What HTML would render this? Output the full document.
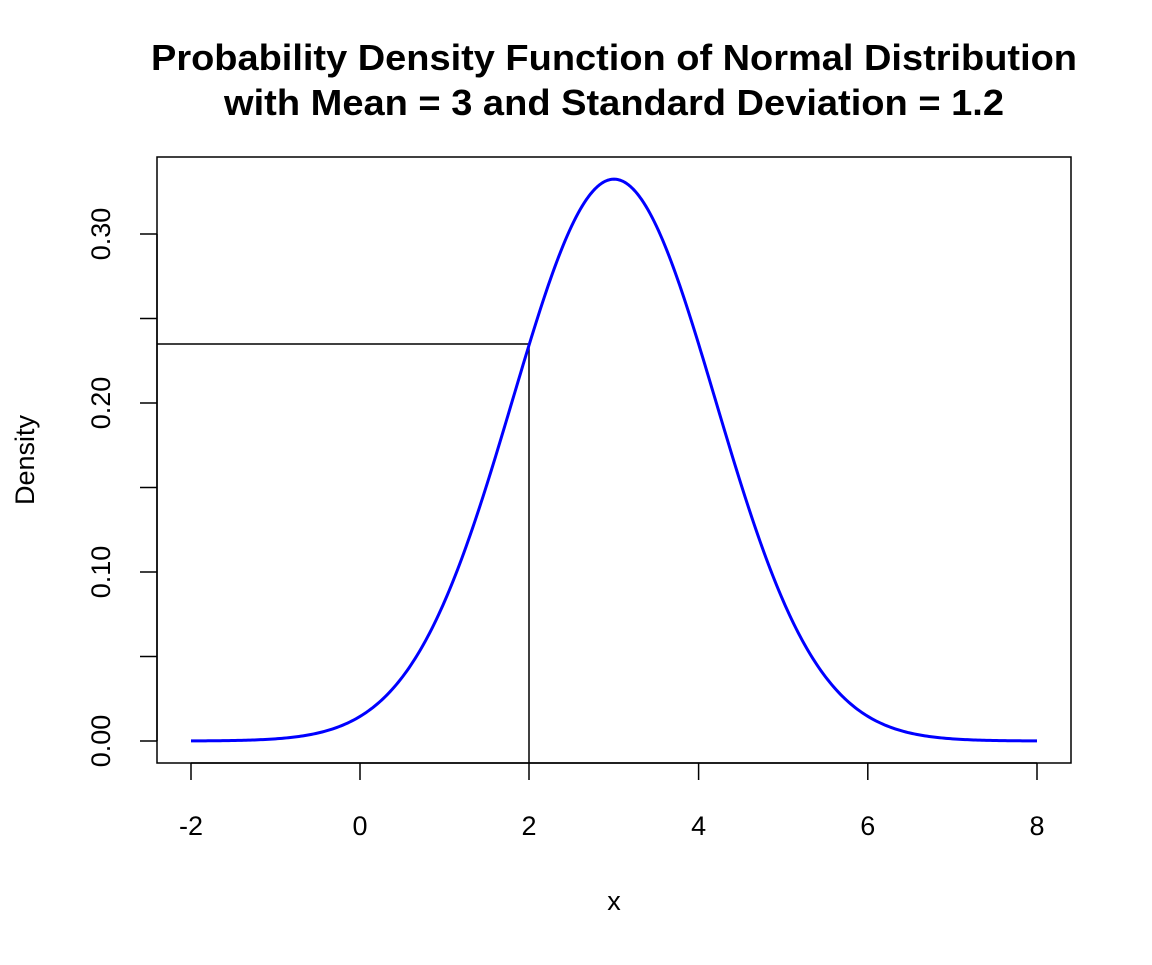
<!DOCTYPE html>
<html><head><meta charset="utf-8"><style>body{margin:0;background:#fff}</style></head><body>
<svg width="1152" height="960" xmlns="http://www.w3.org/2000/svg" font-family="Liberation Sans, Arial, sans-serif">
<rect width="1152" height="960" fill="#fff"/>
<text x="614" y="70" font-size="36" font-weight="bold" text-anchor="middle" textLength="926" lengthAdjust="spacingAndGlyphs">Probability Density Function of Normal Distribution</text>
<text x="614" y="115" font-size="36" font-weight="bold" text-anchor="middle" textLength="780" lengthAdjust="spacingAndGlyphs">with Mean = 3 and Standard Deviation = 1.2</text>
<rect x="157" y="157" width="914" height="606" fill="none" stroke="#000" stroke-width="1.5"/>
<g stroke="#000" stroke-width="1.5">
<line x1="191" y1="763" x2="1037" y2="763"/>
<line x1="191" y1="763" x2="191" y2="780"/><line x1="360" y1="763" x2="360" y2="780"/><line x1="529" y1="763" x2="529" y2="780"/><line x1="698.6" y1="763" x2="698.6" y2="780"/><line x1="867.8" y1="763" x2="867.8" y2="780"/><line x1="1037" y1="763" x2="1037" y2="780"/>
<line x1="157" y1="234" x2="157" y2="741"/>
<line x1="140" y1="741" x2="157" y2="741"/><line x1="140" y1="656.5" x2="157" y2="656.5"/><line x1="140" y1="572" x2="157" y2="572"/><line x1="140" y1="487.5" x2="157" y2="487.5"/><line x1="140" y1="403" x2="157" y2="403"/><line x1="140" y1="318.5" x2="157" y2="318.5"/><line x1="140" y1="234" x2="157" y2="234"/>
<line x1="157" y1="344" x2="529" y2="344"/><line x1="529" y1="344" x2="529" y2="763"/>
</g>
<g font-size="27" text-anchor="middle">
<text x="191" y="835">-2</text><text x="360" y="835">0</text><text x="529" y="835">2</text><text x="698.6" y="835">4</text><text x="867.8" y="835">6</text><text x="1037" y="835">8</text>
<text transform="translate(110,741) rotate(-90)">0.00</text>
<text transform="translate(110,572) rotate(-90)">0.10</text>
<text transform="translate(110,403) rotate(-90)">0.20</text>
<text transform="translate(110,234) rotate(-90)">0.30</text>
<text transform="translate(34,460) rotate(-90)">Density</text>
<text x="614" y="910">x</text>
</g>
<polyline id="curve" fill="none" stroke="#0000ff" stroke-width="3" stroke-linejoin="round" points="191,740.9 212.15,740.8 233.3,740.5 254.45,739.9 275.6,738.8 296.75,736.7 317.9,733 339.05,726.7 360.2,716.3 381.35,700.3 402.5,676.8 423.65,644.1 444.8,600.9 465.95,547 487.1,483.8 508.25,414.5 529.4,344 550.55,278.9 571.7,225.9 592.85,191.3 614,179.2 635.15,191.3 656.3,225.9 677.45,278.9 698.6,344 719.75,414.5 740.9,483.8 762.05,547 783.2,600.9 804.35,644.1 825.5,676.8 846.65,700.3 867.8,716.3 888.95,726.7 910.1,733 931.25,736.7 952.4,738.8 973.55,739.9 994.7,740.5 1015.85,740.8 1037,740.9"/>
</svg>
<script>
(function(){var p=[];for(var i=0;i<=400;i++){var x=-2+i*10/400;var f=Math.exp(-Math.pow(x-3,2)/2.88)/(1.2*Math.sqrt(2*Math.PI));p.push((191+84.6*(x+2)).toFixed(2)+","+(741-1690*f).toFixed(2));}
document.getElementById("curve").setAttribute("points",p.join(" "));})();
</script>
</body></html>
